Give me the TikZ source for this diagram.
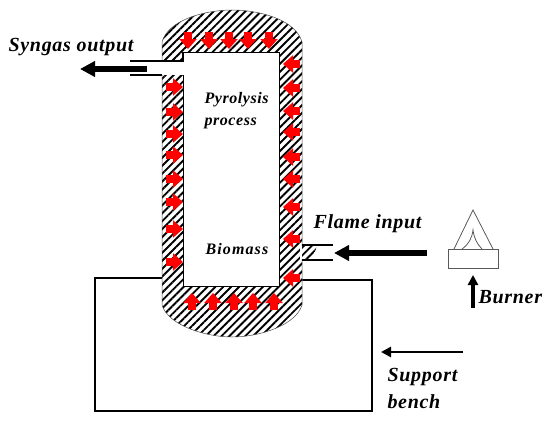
\documentclass[tikz,border=0pt]{standalone}
\usepackage{fontspec}
\setmainfont{Liberation Serif}
\newfontfamily\widefont[LetterSpace=3.5]{Liberation Serif}
\newfontfamily\widerfont[LetterSpace=7]{Liberation Serif}
\usetikzlibrary{arrows.meta,patterns.meta}
\tikzset{
 hatchfill/.style={pattern={Lines[angle=45,distance=5.6pt,line width=1.9pt]},pattern color=black},
 heatarrow/.style={-{Triangle[width=17pt,length=10pt]},red,line width=8pt},
 flowarrow/.style={-{Triangle[width=15pt,length=15pt]},line width=5.5pt},
 thinarrow/.style={-{Triangle[width=10pt,length=10pt]},line width=2.6pt},
 labeltext/.style={font=\widefont\fontsize{20}{27}\selectfont\bfseries\itshape,align=left},
 smalltext/.style={font=\widefont\fontsize{16}{22}\selectfont\bfseries\itshape,align=left}
}
\begin{document}
\begin{tikzpicture}[x=1pt,y=-1pt,>=Latex]
\useasboundingbox (0,0) rectangle (550,423);
% support bench sits behind the vessel
\draw[line width=1.5pt] (162,278)--(95,278)--(95,411)--(372,411)--(372,280)--(302,280);
% vessel wall
\path[fill=white] (162,305)--(162,42) .. controls (168,20) and (205,10) .. (232,10)
 .. controls (260,10) and (296,20) .. (302,42)--(302,305)
 .. controls (296,325) and (260,337) .. (232,337)
 .. controls (205,337) and (168,325) .. (162,305)--cycle;
\path[hatchfill,draw=black!70,line width=0.5pt] (162,305)--(162,42) .. controls (168,20) and (205,10) .. (232,10)
 .. controls (260,10) and (296,20) .. (302,42)--(302,305)
 .. controls (296,325) and (260,337) .. (232,337)
 .. controls (205,337) and (168,325) .. (162,305)--cycle;
\path[fill=white,draw=black,line width=0.7pt] (183,52) rectangle (279,286);
% syngas outlet
\fill[white] (160,62) rectangle (184,74.5);
\draw[line width=1.2pt] (130,61)--(183,61)--(183,52);
\draw[line width=1.2pt] (130,75)--(162,75);
\draw[line width=0.7pt] (183,75)--(183,80);
\draw[flowarrow] (147,69)--(80,69);
% flame inlet
\fill[white] (300,246) rectangle (334,259);
\path[hatchfill] (302,246)--(317,246)--(312,259)--(302,259)--cycle;
\draw[line width=1.2pt] (302,245)--(333,245);
\draw[line width=1.2pt] (302,260)--(333,260);
\draw[flowarrow] (427,253)--(334,253);
% heat arrows through the wall
\foreach \px in {188,209,229,248,269} \draw[heatarrow] (\px,32)--(\px,49);
\foreach \px in {192,213,234,253,274} \draw[heatarrow] (\px,310)--(\px,293);
\foreach \py in {87,112,134,155,179,202,229,262} \draw[heatarrow] (166,\py)--(183,\py);
\foreach \py in {64,88,111,132,157,179,207,239,278} \draw[heatarrow] (300,\py)--(283,\py);
% burner
\draw[black!65,line width=0.8pt] (448,249) rectangle (498,268);
\draw[black!65,line width=0.8pt] (454,249)--(473,210)--(493,249);
\draw[black!65,line width=0.8pt] (462,249) .. controls (469,244) and (472,238) .. (473,230)
 .. controls (474,238) and (477,244) .. (482,249);
\draw[thinarrow,line width=3.2pt] (473,308)--(473,275);
\draw[thinarrow] (463,352)--(381,352);
% labels
\node[labeltext,anchor=west] (syngas) at (5,47) {Syngas output};
\node[smalltext,anchor=north west] (pyro) at (201,89) {Pyrolysis\\process};
\node[smalltext,font=\widerfont\fontsize{16}{22}\selectfont\bfseries\itshape,anchor=west] (biomass) at (202,249) {Biomass};
\node[labeltext,anchor=west] (flame) at (310,224) {Flame input};
\node[labeltext,anchor=west] (burner) at (475,297) {Burner};
\node[labeltext,anchor=north west] (bench) at (384,365) {Support\\bench};
\end{tikzpicture}
\end{document}
